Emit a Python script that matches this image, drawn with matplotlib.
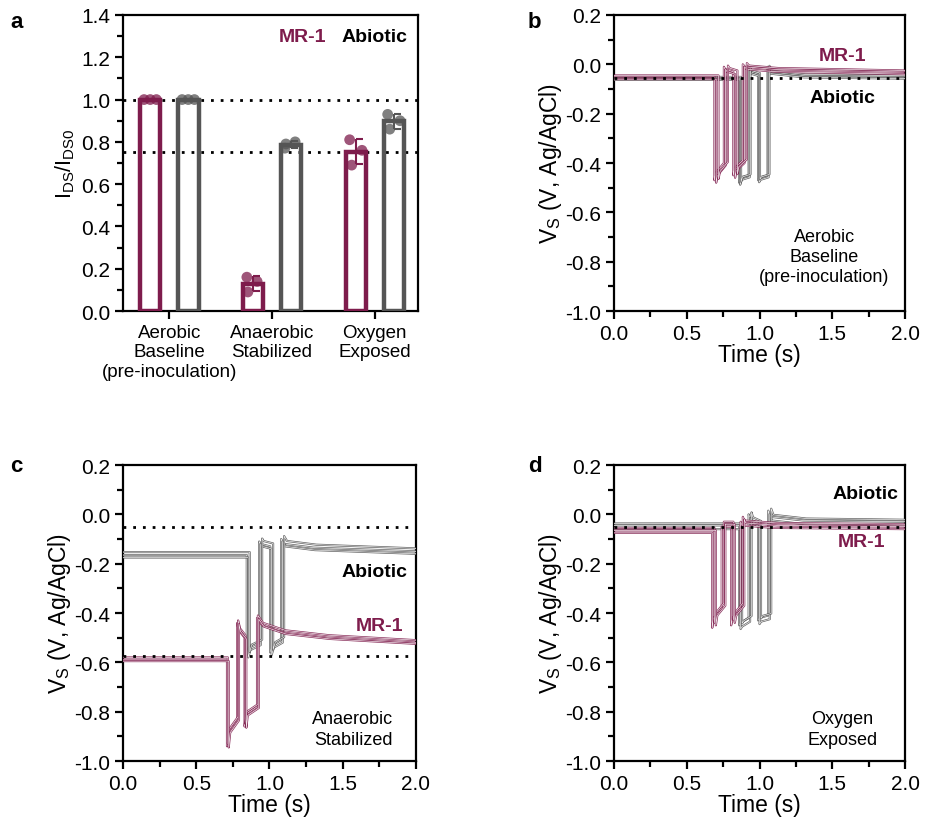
import numpy as np
import matplotlib
matplotlib.use("Agg")
import matplotlib.pyplot as plt
from matplotlib.ticker import FuncFormatter

plt.rcParams['font.family'] = ['Liberation Sans', 'DejaVu Sans']
plt.rcParams['mathtext.default'] = 'regular'
plt.rcParams['font.size'] = 14

MR1 = '#7e1c4c'
ABIO = '#555555'

# ---- panel a data ----
conditions = ['Aerobic\nBaseline\n(pre-inoculation)', 'Anaerobic\nStabilized', 'Oxygen\nExposed']
mr1_points = [[1.0, 1.0, 1.0], [0.16, 0.14, 0.09], [0.81, 0.76, 0.69]]
abio_points = [[1.0, 1.0, 1.0], [0.77, 0.80, 0.79], [0.93, 0.90, 0.86]]
jitter = [[-0.06, 0.0, 0.06], [-0.06, 0.04, -0.05], [-0.06, 0.06, -0.04]]
ref_lines_a = [1.0, 0.75]

# ---- panels b-d: key points of the traces (time s, V) ----
b_mr1_t = [0, 0.69, 0.69, 0.70, 0.755, 0.755, 0.765, 0.82, 0.82, 0.83, 0.885, 0.885, 0.90, 1.1, 2.0]
b_mr1_v = [-0.05, -0.05, -0.47, -0.44, -0.40, -0.01, -0.02, -0.03, -0.45, -0.42, -0.39, 0.0, -0.01, -0.02, -0.03]
b_mr1_shift = [(0.0, 0.0), (0.012, -0.01), (0.028, 0.005)]
b_abio_t = [0, 0.86, 0.86, 0.87, 0.925, 0.925, 0.935, 0.99, 0.99, 1.0, 1.055, 1.055, 1.07, 1.3, 2.0]
b_abio_v = [-0.055, -0.055, -0.48, -0.46, -0.45, -0.02, -0.03, -0.04, -0.47, -0.46, -0.45, -0.01, -0.03, -0.045, -0.05]
b_abio_shift = [(0.0, 0.0), (0.007, -0.008), (0.013, 0.004)]

c_mr1_t = [0, 0.71, 0.71, 0.72, 0.78, 0.78, 0.79, 0.83, 0.83, 0.84, 0.915, 0.915, 0.95, 1.1, 1.4, 2.0]
c_mr1_v = [-0.59, -0.59, -0.94, -0.88, -0.83, -0.44, -0.47, -0.50, -0.86, -0.81, -0.78, -0.42, -0.45, -0.48, -0.50, -0.52]
c_mr1_shift = [(0.0, 0.0), (0.006, 0.01), (0.012, -0.005)]
c_abio_t = [0, 0.845, 0.845, 0.86, 0.93, 0.93, 0.94, 1.005, 1.005, 1.02, 1.08, 1.08, 1.10, 1.3, 2.0]
c_abio_v = [-0.165, -0.165, -0.57, -0.54, -0.52, -0.11, -0.12, -0.13, -0.56, -0.53, -0.51, -0.10, -0.12, -0.135, -0.15]
c_abio_shift = [(0.0, 0.0), (0.01, -0.01), (0.02, 0.012)]

d_mr1_t = [0, 0.675, 0.675, 0.685, 0.74, 0.74, 0.75, 0.805, 0.805, 0.815, 0.87, 0.87, 0.88, 1.1, 2.0]
d_mr1_v = [-0.075, -0.075, -0.46, -0.42, -0.38, -0.05, -0.05, -0.05, -0.45, -0.42, -0.38, -0.03, -0.045, -0.055, -0.06]
d_mr1_shift = [(0.0, 0.0), (0.015, 0.02), (0.025, 0.01)]
d_abio_t = [0, 0.86, 0.86, 0.87, 0.925, 0.925, 0.935, 0.99, 0.99, 1.0, 1.06, 1.06, 1.075, 1.3, 2.0]
d_abio_v = [-0.045, -0.045, -0.45, -0.44, -0.42, 0.0, -0.02, -0.035, -0.43, -0.42, -0.41, 0.015, -0.01, -0.025, -0.03]
d_abio_shift = [(0.0, 0.0), (0.01, -0.015), (0.02, 0.008)]

fig = plt.figure(figsize=(9.26, 8.2), dpi=100)

one_dec = FuncFormatter(lambda v, p: ('%.1f' % v).replace('-0.0', '0.0'))


def style_axes(ax):
    for s in ax.spines.values():
        s.set_linewidth(1.6)
    ax.tick_params(which='major', direction='out', length=6, width=1.6, labelsize=15, pad=3)
    ax.tick_params(which='minor', direction='out', length=4, width=1.6)


# ---------------- panel a ----------------
ax = fig.add_axes([0.1328, 0.6195, 0.3186, 0.361])
x = np.arange(len(conditions))
off = 0.185
for i in range(len(conditions)):
    for pts, dx, col in [(mr1_points[i], -off, MR1), (abio_points[i], off, ABIO)]:
        m = np.mean(pts)
        sd = np.std(pts, ddof=1)
        ax.bar(x[i] + dx, m, width=0.2, facecolor='none', edgecolor=col, linewidth=3.2, zorder=3)
        ax.scatter(x[i] + dx + np.array(jitter[i]), pts, s=60, color=col, alpha=0.75,
                   edgecolor='none', zorder=4)
        if sd > 0:
            ax.vlines(x[i] + dx, m - sd, m + sd, color=col, lw=1.5, zorder=5)
            ax.hlines([m - sd, m + sd], x[i] + dx, x[i] + dx + 0.07, color=col, lw=1.5, zorder=5)
for yv in ref_lines_a:
    ax.axhline(yv, color='black', ls=(0, (1, 2.5)), lw=2, zorder=2)
ax.set_xlim(-0.45, 2.42)
ax.set_ylim(0, 1.4)
ax.set_yticks(np.arange(0, 1.41, 0.2))
ax.set_yticks(np.arange(0, 1.41, 0.1), minor=True)
ax.yaxis.set_major_formatter(one_dec)
ax.set_xticks(x)
style_axes(ax)
ax.set_xticklabels(conditions, linespacing=1.2, fontsize=13.5)
ax.set_ylabel('I$_{DS}$/I$_{DS0}$', fontsize=15.5, labelpad=3)
ax.text(1.30, 1.3, 'MR-1', color=MR1, fontweight='bold', ha='center', va='center', fontsize=14)
ax.text(2.0, 1.3, 'Abiotic', color='black', fontweight='bold', ha='center', va='center', fontsize=14)


# ---------------- trace panels ----------------
def trace_panel(rect, mr1, abio, ref, cond, lab_mr1, lab_abio, cond_pos):
    ax = fig.add_axes(rect)
    for (t, v, shifts), col in [(abio, ABIO), (mr1, MR1)]:
        for dt, dv in shifts:
            tt = np.array(t) + np.where(np.array(t) > 0.3, dt, 0)
            tt[-1] = 2.0
            vv = np.array(v) + dv
            ax.plot(tt, vv, color=col, lw=1.5, alpha=0.9, zorder=3)
            ax.plot(tt, vv, color='white', lw=0.5, alpha=0.9, zorder=3)
    for yv in ref:
        ax.axhline(yv, color='black', ls=(0, (1, 2.5)), lw=2, zorder=4)
    ax.set_xlim(0, 2.0)
    ax.set_ylim(-1.0, 0.2)
    ax.set_xticks(np.arange(0, 2.01, 0.5))
    ax.set_xticks(np.arange(0, 2.01, 0.25), minor=True)
    ax.set_yticks(np.arange(-1.0, 0.21, 0.2))
    ax.set_yticks(np.arange(-1.0, 0.21, 0.1), minor=True)
    ax.xaxis.set_major_formatter(one_dec)
    ax.yaxis.set_major_formatter(one_dec)
    style_axes(ax)
    ax.set_xlabel('Time (s)', fontsize=16.5, labelpad=0)
    ax.set_ylabel('V$_S$ (V, Ag/AgCl)', fontsize=16.5, labelpad=1)
    ax.text(lab_mr1[0], lab_mr1[1], 'MR-1', color=MR1, fontweight='bold', ha='center', va='center', fontsize=14)
    ax.text(lab_abio[0], lab_abio[1], 'Abiotic', color='black', fontweight='bold', ha='center', va='center', fontsize=14)
    ax.text(cond_pos[0], cond_pos[1], cond, ha='center', va='center', fontsize=13, linespacing=1.25)
    return ax


trace_panel([0.663, 0.6195, 0.3145, 0.361],
            (b_mr1_t, b_mr1_v, b_mr1_shift), (b_abio_t, b_abio_v, b_abio_shift),
            [-0.055], 'Aerobic\nBaseline\n(pre-inoculation)', (1.57, 0.034), (1.57, -0.136), (1.445, -0.78))
trace_panel([0.1328, 0.0707, 0.3164, 0.361],
            (c_mr1_t, c_mr1_v, c_mr1_shift), (c_abio_t, c_abio_v, c_abio_shift),
            [-0.05, -0.575], 'Anaerobic\nStabilized', (1.75, -0.451), (1.72, -0.231), (1.57, -0.87))
trace_panel([0.663, 0.0707, 0.3145, 0.361],
            (d_mr1_t, d_mr1_v, d_mr1_shift), (d_abio_t, d_abio_v, d_abio_shift),
            [-0.05], 'Oxygen\nExposed', (1.70, -0.109), (1.73, 0.086), (1.57, -0.87))

for lab, (px, py) in zip('abcd', [(10, 22), (528, 22), (10, 467), (528, 467)]):
    fig.text(px / 926, 1 - py / 820, lab, fontweight='bold', fontsize=16, ha='left', va='center')

fig.savefig('out.png', dpi=100)
